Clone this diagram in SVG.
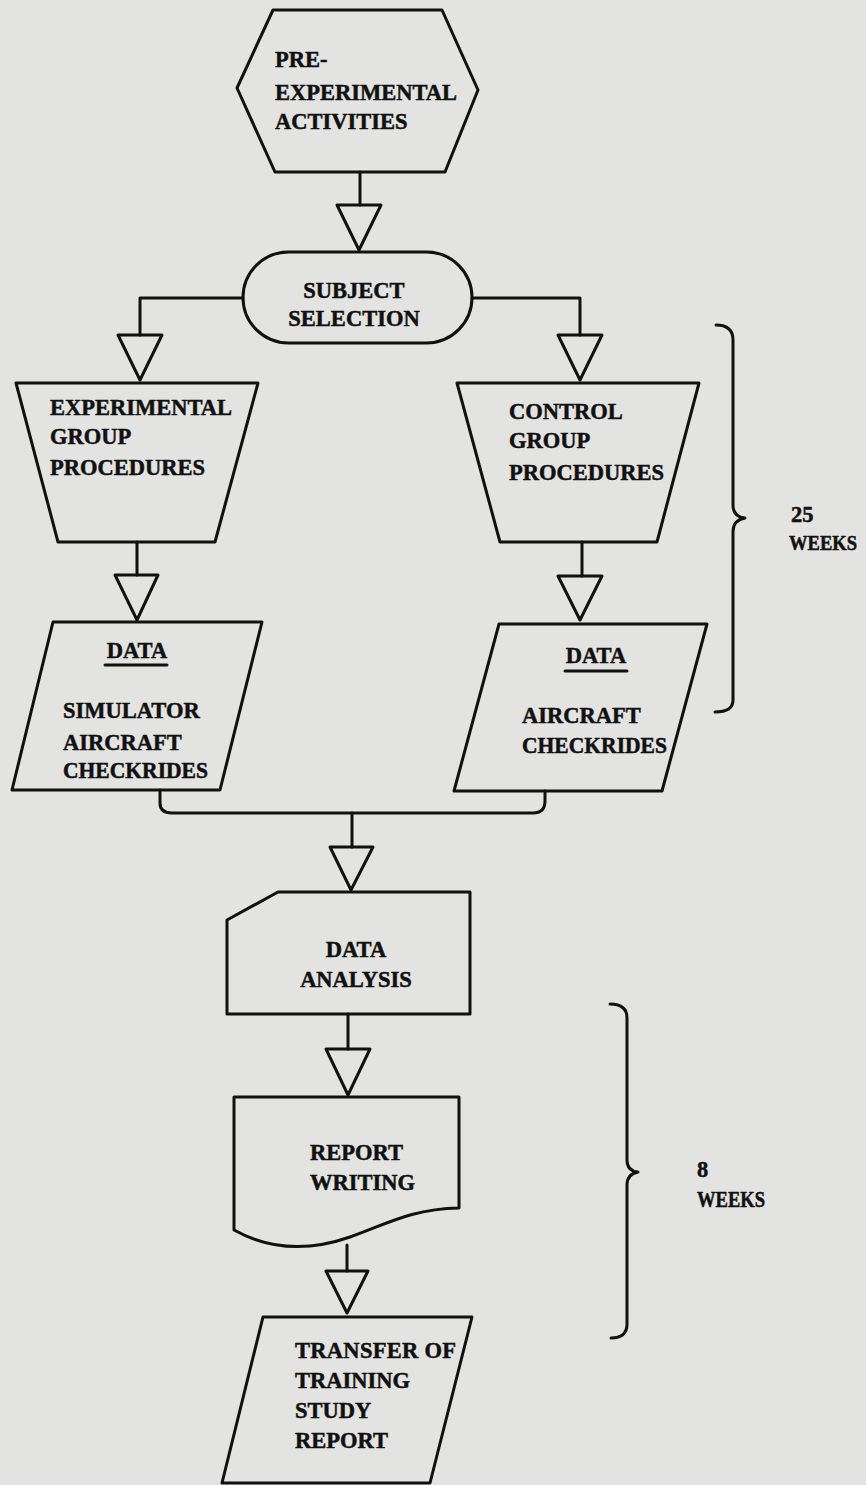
<svg xmlns="http://www.w3.org/2000/svg" width="866" height="1485" viewBox="0 0 866 1485">
<defs>
<style>
.s{fill:none;stroke:#111;stroke-width:3;stroke-linejoin:round;stroke-linecap:round}
.t{font-family:"Liberation Serif","DejaVu Serif",serif;font-weight:bold;font-size:22.5px;fill:#111;stroke:#111;stroke-width:0.5}
.m{text-anchor:middle}
</style>
</defs>
<rect x="0" y="0" width="866" height="1485" fill="#e3e3e1"/>
<g id="connectors">
<path class="s" d="M360,172 V205"/>
<path class="s" d="M337,205 H381 L359,250 Z"/>
<path class="s" d="M243,298 H140 V335"/>
<path class="s" d="M118,335 H162 L140,380 Z"/>
<path class="s" d="M472,298 H580 V335"/>
<path class="s" d="M558,335 H602 L580,380 Z"/>
<path class="s" d="M137,542 V575"/>
<path class="s" d="M115,575 H158 L137,620 Z"/>
<path class="s" d="M582,542 V576"/>
<path class="s" d="M558,576 H602 L580,620 Z"/>
<path class="s" d="M160,790 V803 Q160,813 172,813 H533 Q545,813 545,801 V791"/>
<path class="s" d="M352,813 V847"/>
<path class="s" d="M330,847 H373 L351,890 Z"/>
<path class="s" d="M348,1014 V1049"/>
<path class="s" d="M326,1049 H370 L348,1095 Z"/>
<path class="s" d="M347,1245 V1271"/>
<path class="s" d="M326,1271 H368 L347,1313 Z"/>
</g>
<g id="pre-experimental">
<path class="s" d="M273,10 H442 L478,90 L445,172 H275 L237,88 Z"/>
<text class="t" x="275" y="67">PRE-</text>
<text class="t" x="275" y="100">EXPERIMENTAL</text>
<text class="t" x="275" y="129">ACTIVITIES</text>
</g>
<g id="subject-selection">
<rect class="s" x="243" y="252" width="229" height="91" rx="45.5" ry="45.5"/>
<text class="t m" x="354" y="298">SUBJECT</text>
<text class="t m" x="354" y="326">SELECTION</text>
</g>
<g id="experimental-group">
<path class="s" d="M16,383 H258 L215,542 H58 Z"/>
<text class="t" x="50" y="415">EXPERIMENTAL</text>
<text class="t" x="50" y="444">GROUP</text>
<text class="t" x="50" y="475">PROCEDURES</text>
</g>
<g id="control-group">
<path class="s" d="M457,383 H699 L657,542 H500 Z"/>
<text class="t" x="509" y="419">CONTROL</text>
<text class="t" x="509" y="448">GROUP</text>
<text class="t" x="509" y="480">PROCEDURES</text>
</g>
<g id="data-simulator">
<path class="s" d="M53,622 H262 L220,790 H12 Z"/>
<text class="t m" x="137" y="658">DATA</text>
<path class="s" d="M105,665 H167"/>
<text class="t" x="63" y="718">SIMULATOR</text>
<text class="t" x="63" y="750">AIRCRAFT</text>
<text class="t" x="63" y="778" textLength="145" lengthAdjust="spacingAndGlyphs">CHECKRIDES</text>
</g>
<g id="data-aircraft">
<path class="s" d="M499,624 H707 L662,791 H454 Z"/>
<text class="t m" x="596" y="663">DATA</text>
<path class="s" d="M565,671 H627"/>
<text class="t" x="522" y="723">AIRCRAFT</text>
<text class="t" x="522" y="753" textLength="145" lengthAdjust="spacingAndGlyphs">CHECKRIDES</text>
</g>
<g id="data-analysis">
<path class="s" d="M278,892 H470 V1014 H227 V920 Z"/>
<text class="t m" x="356" y="957">DATA</text>
<text class="t m" x="356" y="987">ANALYSIS</text>
</g>
<g id="report-writing">
<path class="s" d="M234,1097 H459 V1208 C410,1209 385,1225 350,1237 C310,1251 270,1250 234,1230 Z"/>
<text class="t" x="310" y="1160">REPORT</text>
<text class="t" x="310" y="1190">WRITING</text>
</g>
<g id="transfer-report">
<path class="s" d="M263,1317 H472 L430,1483 H222 Z"/>
<text class="t" x="295" y="1358" textLength="161" lengthAdjust="spacing">TRANSFER OF</text>
<text class="t" x="295" y="1388">TRAINING</text>
<text class="t" x="295" y="1418">STUDY</text>
<text class="t" x="295" y="1448">REPORT</text>
</g>
<g id="brace-25-weeks">
<path class="s" d="M716,325 Q733,325 733,340 V505 Q733,517 745,518 Q733,520 733,532 V700 Q733,712 715,712"/>
<text class="t" x="791" y="522">25</text>
<text class="t" x="789" y="550" style="font-size:20px" textLength="68" lengthAdjust="spacingAndGlyphs">WEEKS</text>
</g>
<g id="brace-8-weeks">
<path class="s" d="M610,1004 Q627,1004 627,1018 V1160 Q627,1171 638,1172 Q627,1174 627,1185 V1324 Q627,1338 611,1338"/>
<text class="t" x="697" y="1177">8</text>
<text class="t" x="697" y="1207" textLength="68" lengthAdjust="spacingAndGlyphs">WEEKS</text>
</g>
</svg>
